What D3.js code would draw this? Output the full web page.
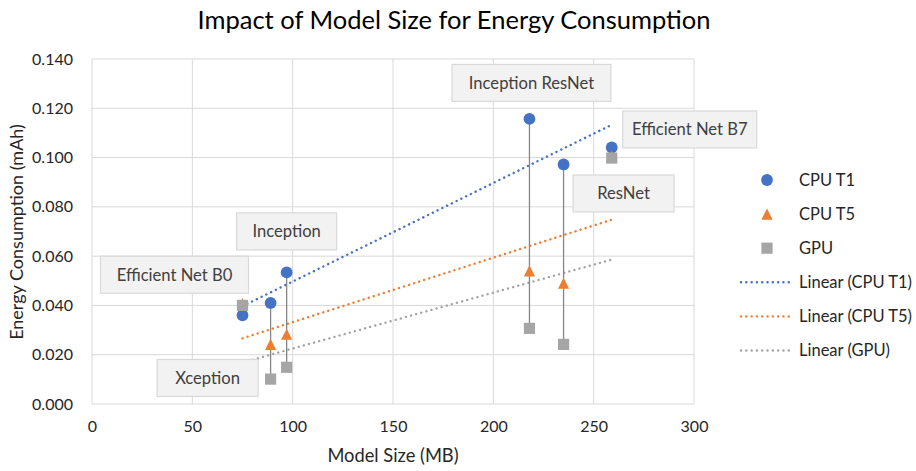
<!DOCTYPE html>
<html>
<head>
<meta charset="utf-8">
<script src="https://cdn.jsdelivr.net/npm/d3@7"></script>
<style>
  html, body { margin: 0; padding: 0; background: #fff; }
  svg { display: block; font-family: Lato, "Open Sans", sans-serif; }
</style>
</head>
<body>
<svg id="chart" width="916" height="471"></svg>
<script>
// ---- Data ----
const models = ["Efficient Net B0", "Xception", "Inception", "Inception ResNet", "ResNet", "Efficient Net B7"];
const modelSize = [75, 89, 97, 218, 235, 259];
const cpuT1 = [0.036, 0.041, 0.0534, 0.1157, 0.0972, 0.1041];
const cpuT5 = [0.0407, 0.0242, 0.0283, 0.054, 0.049, 0.1006];
const gpu   = [0.040, 0.0101, 0.0149, 0.0307, 0.0242, 0.0998];
const xTicks = [0, 50, 100, 150, 200, 250, 300];
const yTicks = [0, 0.02, 0.04, 0.06, 0.08, 0.10, 0.12, 0.14];
const seriesNames = ["CPU T1", "CPU T5", "GPU"];

// ---- Layout ----
const W = 916, H = 471;
const plot = { left: 92, right: 694, top: 59, bottom: 404 };
const colors = ["#4472C4", "#ED7D31", "#A5A5A5"];
const gridColor = "#d9d9d9";
const textColor = "#262626";

const svg = d3.select("#chart");
const x = d3.scaleLinear().domain([0, 300]).range([plot.left, plot.right]);
const y = d3.scaleLinear().domain([0, 0.14]).range([plot.bottom, plot.top]);

// Title
svg.append("text")
  .attr("x", 454).attr("y", 29)
  .attr("text-anchor", "middle")
  .attr("font-size", 25.5)
  .attr("fill", "#000")
  .text("Impact of Model Size for Energy Consumption");

// Gridlines
const g = svg.append("g");
g.selectAll(".hg").data(yTicks).join("line")
  .attr("x1", plot.left).attr("x2", plot.right)
  .attr("y1", d => y(d)).attr("y2", d => y(d))
  .attr("stroke", gridColor).attr("stroke-width", 1);
g.selectAll(".vg").data(xTicks).join("line")
  .attr("y1", plot.top).attr("y2", plot.bottom)
  .attr("x1", d => x(d)).attr("x2", d => x(d))
  .attr("stroke", gridColor).attr("stroke-width", 1);

// Axes (labels via d3 axis)
const yAxis = d3.axisLeft(y).tickValues(yTicks).tickFormat(d3.format(".3f")).tickSize(0).tickPadding(19);
const xAxis = d3.axisBottom(x).tickValues(xTicks).tickFormat(d3.format("d")).tickSize(0).tickPadding(17);
const ya = svg.append("g").attr("transform", `translate(${plot.left},0)`).call(yAxis);
const xa = svg.append("g").attr("transform", `translate(0,${plot.bottom})`).call(xAxis);
[ya, xa].forEach(a => {
  a.select(".domain").remove();
  a.selectAll("text").attr("font-size", 16).attr("fill", textColor).attr("font-family", "Lato, sans-serif");
});

// Axis titles
svg.append("text")
  .attr("x", 393).attr("y", 462)
  .attr("text-anchor", "middle").attr("font-size", 18.3).attr("fill", textColor)
  .text("Model Size (MB)");
svg.append("text")
  .attr("transform", `translate(23,232) rotate(-90)`)
  .attr("text-anchor", "middle").attr("font-size", 18).attr("fill", textColor)
  .text("Energy Consumption (mAh)");

// Trendlines (least-squares fit of each series)
const seriesVals = [cpuT1, cpuT5, gpu];
function fit(xs, ys) {
  const mx = d3.mean(xs), my = d3.mean(ys);
  let sxy = 0, sxx = 0;
  xs.forEach((xv, i) => { sxy += (xv - mx) * (ys[i] - my); sxx += (xv - mx) * (xv - mx); });
  const b = sxy / sxx;
  return xv => my + b * (xv - mx);
}
const xMin = d3.min(modelSize), xMax = d3.max(modelSize);
seriesVals.forEach((vals, si) => {
  const f = fit(modelSize, vals);
  svg.append("line")
    .attr("x1", x(xMin)).attr("y1", y(f(xMin)))
    .attr("x2", x(xMax)).attr("y2", y(f(xMax)))
    .attr("stroke", colors[si]).attr("stroke-width", 2.4)
    .attr("stroke-linecap", "round")
    .attr("stroke-dasharray", "0.1 5.2");
});

// High-low (drop) lines
models.forEach((m, i) => {
  const vs = [cpuT1[i], cpuT5[i], gpu[i]];
  svg.append("line")
    .attr("x1", x(modelSize[i])).attr("x2", x(modelSize[i]))
    .attr("y1", y(d3.max(vs))).attr("y2", y(d3.min(vs)))
    .attr("stroke", "#868686").attr("stroke-width", 1.3);
});

// Marker shapes (centered on their bounding box, like spreadsheet markers)
function markerPath(type, s) {
  const h = s / 2;
  if (type === 0) return d3.path().arc ? (() => { const p = d3.path(); p.arc(0, 0, h + 0.3, 0, 2 * Math.PI); return p.toString(); })() : "";
  if (type === 1) return `M0,${-h}L${h},${h}L${-h},${h}Z`;
  return `M${-h},${-h}H${h}V${h}H${-h}Z`;
}
const markerSize = 11.2;
seriesVals.forEach((vals, si) => {
  svg.append("g").selectAll("path").data(vals).join("path")
    .attr("transform", (d, i) => `translate(${x(modelSize[i])},${y(d)})`)
    .attr("d", markerPath(si, markerSize))
    .attr("fill", colors[si]);
});

// Data labels (boxes), offsets from the model's top point
const labelCfg = [
  { dx: -68, dy: -29, w: 148 },  // Efficient Net B0
  { dx: -63, dy: 75,  w: 101 },  // Xception
  { dx: 0,   dy: -41, w: 100 },  // Inception
  { dx: 2,   dy: -36, w: 159 },  // Inception ResNet
  { dx: 60,  dy: 29,  w: 101 },  // ResNet
  { dx: 78,  dy: -18, w: 134 }   // Efficient Net B7
];
const lh = 37;
models.forEach((m, i) => {
  const px = x(modelSize[i]);
  const py = y(d3.max([cpuT1[i], cpuT5[i], gpu[i]]));
  const c = labelCfg[i];
  const cx = px + c.dx, cy = py + c.dy;
  svg.append("rect")
    .attr("x", cx - c.w / 2).attr("y", cy - lh / 2)
    .attr("width", c.w).attr("height", lh)
    .attr("fill", "#f2f2f2").attr("stroke", "#d9d9d9").attr("stroke-width", 1.2);
  svg.append("text")
    .attr("x", cx).attr("y", cy)
    .attr("dy", "0.36em")
    .attr("text-anchor", "middle").attr("font-size", 16.6).attr("fill", "#404040")
    .text(m);
});

// Legend
const legendItems = [
  ...seriesNames.map((n, i) => ({ type: "marker", i, label: n })),
  ...seriesNames.map((n, i) => ({ type: "line", i, label: `Linear (${n})` }))
];
const lg = svg.append("g");
legendItems.forEach((it, k) => {
  const ly = 180 + k * 34.1;
  if (it.type === "marker") {
    lg.append("path")
      .attr("transform", `translate(767,${ly})`)
      .attr("d", markerPath(it.i, markerSize))
      .attr("fill", colors[it.i]);
  } else {
    lg.append("line")
      .attr("x1", 741).attr("x2", 792).attr("y1", ly).attr("y2", ly)
      .attr("stroke", colors[it.i]).attr("stroke-width", 2.4)
      .attr("stroke-linecap", "round")
      .attr("stroke-dasharray", "0.1 5.2");
  }
  lg.append("text")
    .attr("x", 799).attr("y", ly).attr("dy", "0.36em")
    .attr("font-size", 16.5).attr("fill", textColor)
    .text(it.label);
});
</script>
</body>
</html>
